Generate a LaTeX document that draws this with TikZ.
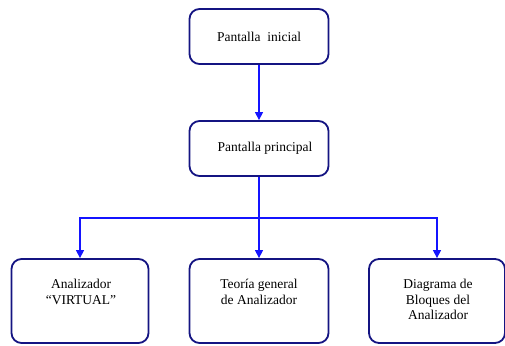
\documentclass[tikz,border=0pt]{standalone}
\usepackage{fontspec}
\setmainfont{Liberation Serif}
\usetikzlibrary{arrows.meta}
\definecolor{boxline}{RGB}{20,20,130}
\definecolor{arrblue}{RGB}{20,20,255}
\begin{document}
\begin{tikzpicture}[x=1pt,y=-1pt,
  box/.style={draw=boxline,line width=1.8pt,rounded corners=10pt,fill=white,inner sep=0pt},
  txt/.style={font=\fontsize{13.5}{15.5}\selectfont,align=center,inner sep=0pt},
  conn/.style={draw=arrblue,line width=1.3pt},
  arr/.style={conn,-{Triangle[length=8pt,width=8pt]}}]
\useasboundingbox (0,0) rectangle (505,345);
\node[box,minimum width=139pt,minimum height=55pt] (top) at (259,36.5) {};
\node[txt] (toptxt) at (259,37) {Pantalla\ \ inicial};
\node[box,minimum width=139pt,minimum height=55pt] (main) at (259,148.5) {};
\node[txt] (maintxt) at (265,148) {Pantalla principal};
\node[box,minimum width=137pt,minimum height=84pt] (a) at (80,301) {};
\node[box,minimum width=139pt,minimum height=84pt] (b) at (259,301) {};
\node[box,minimum width=136pt,minimum height=84pt] (c) at (437,301) {};
\node[txt,anchor=north] (atxt) at (81,279) {Analizador\\“VIRTUAL”};
\node[txt,anchor=north] (btxt) at (259,279) {Teoría general\\de Analizador};
\node[txt,anchor=north] (ctxt) at (438,279) {Diagrama de\\Bloques del\\Analizador};
\coordinate (split) at (259,218);
\draw[arr] (top.south) -- (main.north);
\draw[conn] (main.south) -- (split);
\draw[arr] (split) -- (b.north);
\draw[arr] (split) -| (a.north);
\draw[arr] (split) -| (c.north);
\end{tikzpicture}
\end{document}
